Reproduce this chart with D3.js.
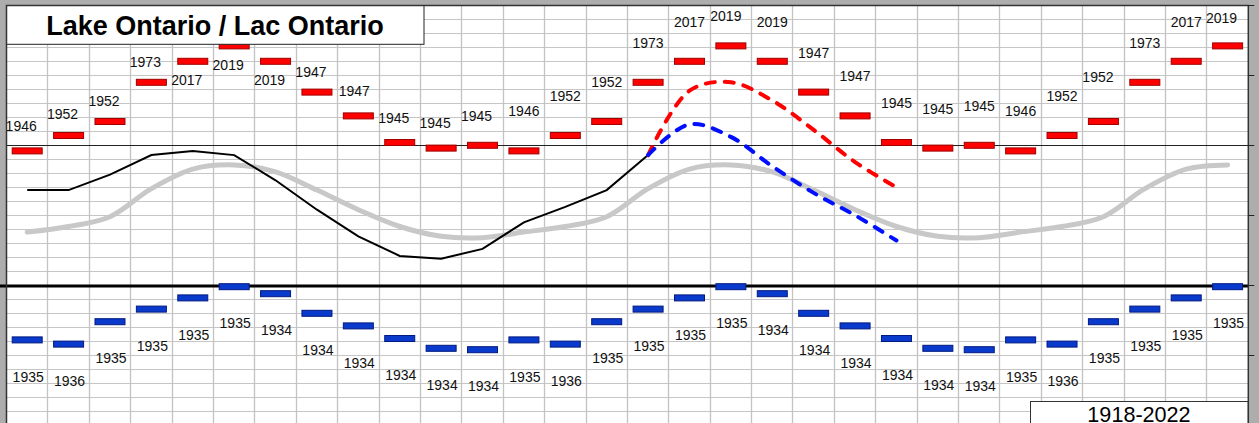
<!DOCTYPE html>
<html><head><meta charset="utf-8">
<script src="https://cdn.jsdelivr.net/npm/d3@7"></script>
<style>
html,body{margin:0;padding:0;background:#adadad;overflow:hidden;}
svg{display:block;font-family:"Liberation Sans",Arial,sans-serif;}
</style></head><body>
<svg id="chart" width="1259" height="423"></svg>
<script>
// ---------- data (metres, IGLD 1985) ----------
const months = ["2022-01","2022-02","2022-03","2022-04","2022-05","2022-06","2022-07","2022-08","2022-09","2022-10","2022-11","2022-12",
                "2023-01","2023-02","2023-03","2023-04","2023-05","2023-06","2023-07","2023-08","2023-09","2023-10","2023-11","2023-12",
                "2024-01","2024-02","2024-03","2024-04","2024-05","2024-06"];
const recordHigh = [75.16,75.27,75.37,75.65,75.80,75.91,75.80,75.58,75.41,75.22,75.18,75.20,
                    75.16,75.27,75.37,75.65,75.80,75.91,75.80,75.58,75.41,75.22,75.18,75.20,
                    75.16,75.27,75.37,75.65,75.80,75.91];
const recordHighYear = [1946,1952,1952,1973,2017,2019,2019,1947,1947,1945,1945,1945,
                        1946,1952,1952,1973,2017,2019,2019,1947,1947,1945,1945,1945,
                        1946,1952,1952,1973,2017,2019];
const recordLow = [73.81,73.78,73.94,74.03,74.11,74.19,74.14,74.00,73.91,73.82,73.75,73.74,
                   73.81,73.78,73.94,74.03,74.11,74.19,74.14,74.00,73.91,73.82,73.75,73.74,
                   73.81,73.78,73.94,74.03,74.11,74.19];
const recordLowYear = [1935,1936,1935,1935,1935,1935,1934,1934,1934,1934,1934,1934,
                       1935,1936,1935,1935,1935,1935,1934,1934,1934,1934,1934,1934,
                       1935,1936,1935,1935,1935,1935];
const longTermAverage = [74.58,74.62,74.69,74.89,75.03,75.06,75.01,74.88,74.74,74.62,74.55,74.54,
                         74.58,74.62,74.69,74.89,75.03,75.06,75.01,74.88,74.74,74.62,74.55,74.54,
                         74.58,74.62,74.69,74.89,75.03,75.06];
const recordedMonths = ["2022-01","2022-02","2022-03","2022-04","2022-05","2022-06","2022-07","2022-08",
                        "2022-09","2022-10","2022-11","2022-12","2023-01","2023-02","2023-03","2023-04"];
const recorded = [74.88,74.88,74.99,75.13,75.16,75.13,74.95,74.74,74.55,74.41,74.39,74.46,74.65,74.76,74.88,75.13];
const forecastMonths = ["2023-04","2023-05","2023-06","2023-07","2023-08","2023-09","2023-10"];
const forecastHigh = [75.13,75.59,75.65,75.52,75.31,75.08,74.90];
const forecastLow  = [75.13,75.35,75.26,75.05,74.86,74.70,74.52];
const yTicks = [73.7,74.2,74.7,75.2,75.7,76.2];
const chartDatum = 74.2;
const referenceLevel = 75.2;
const titleText = "Lake Ontario / Lac Ontario";
const periodText = "1918-2022";

// ---------- layout ----------
const svg = d3.select("#chart");
const L = 6.5, R = 1248.3, T = 5.5, B = 425.3;
const x = d3.scaleBand().domain(months).range([L, R]).padding(0);
const bw = x.bandwidth();
const cx = m => x(m) + bw / 2;
const y = d3.scaleLinear().domain([73.2, 76.2]).range([B, 5.3]);
const crisp = v => Math.floor(v) + 0.5;

svg.append("rect").attr("x",0).attr("y",0).attr("width",1259).attr("height",423).attr("fill","#adadad");
svg.append("rect").attr("x",L).attr("y",T).attr("width",R-L).attr("height",B-T).attr("fill","#fff");

const g = svg.append("g");
// grid
g.selectAll(".hg").data(y.ticks(30)).join("line")
  .attr("x1",L).attr("x2",R).attr("y1",d=>crisp(y(d))).attr("y2",d=>crisp(y(d)))
  .attr("stroke","#c6c6c6").attr("stroke-width",1);
g.selectAll(".vg").data(months.slice(1)).join("line")
  .attr("x1",d=>crisp(x(d))).attr("x2",d=>crisp(x(d))).attr("y1",T).attr("y2",B)
  .attr("stroke","#c3c3c3").attr("stroke-width",1.3);

// reference lines
g.append("line").attr("x1",L).attr("x2",R).attr("y1",crisp(y(referenceLevel))).attr("y2",crisp(y(referenceLevel)))
  .attr("stroke","#222").attr("stroke-width",1);
g.append("line").attr("x1",0).attr("x2",R).attr("y1",y(chartDatum)+0.7).attr("y2",y(chartDatum)+0.7)
  .attr("stroke","#000").attr("stroke-width",3);

// long-term average
const smooth = d3.line().curve(d3.curveCatmullRom.alpha(0.5));
g.append("path")
  .attr("d", smooth(months.map((m,i)=>[cx(m), y(longTermAverage[i])])))
  .attr("fill","none").attr("stroke","#c8c8c8").attr("stroke-width",5).attr("stroke-linecap","round");

// recorded
g.append("path")
  .attr("d", d3.line()(recordedMonths.map((m,i)=>[cx(m), y(recorded[i])])))
  .attr("fill","none").attr("stroke","#000").attr("stroke-width",2);

// forecasts
g.append("path")
  .attr("d", smooth(forecastMonths.map((m,i)=>[cx(m), y(forecastHigh[i])])))
  .attr("fill","none").attr("stroke","#ff0000").attr("stroke-width",4)
  .attr("stroke-dasharray","9,10").attr("stroke-linecap","round");
g.append("path")
  .attr("d", smooth(forecastMonths.map((m,i)=>[cx(m), y(forecastLow[i])])))
  .attr("fill","none").attr("stroke","#0010ff").attr("stroke-width",4)
  .attr("stroke-dasharray","9,10").attr("stroke-linecap","round");

// record bars
const barW = 30, barH = 6;
g.selectAll(".hi").data(months).join("rect")
  .attr("x",m=>cx(m)-barW/2).attr("y",(m,i)=>y(recordHigh[i])-barH/2)
  .attr("width",barW).attr("height",barH)
  .attr("fill","#ff0000").attr("stroke","#a00000").attr("stroke-width",1);
g.selectAll(".lo").data(months).join("rect")
  .attr("x",m=>cx(m)-barW/2).attr("y",(m,i)=>y(recordLow[i])-barH/2)
  .attr("width",barW).attr("height",barH)
  .attr("fill","#0a3acc").attr("stroke","#001a80").attr("stroke-width",1);

// labels
const firstYearDy = {0:-25,1:-22,2:-21,3:-20,4:19,5:19,6:19,7:-20,8:-25,9:-25,10:-25,11:-29};
function hiShift(i){
  if (i < 12) return [i===8?-4:-6, firstYearDy[i]];
  if (i === 17) return [-5,-30];
  if (i === 29) return [-6,-28];
  if (i === 26) return [-5.5,-45];
  return [0,-39.5];
}
g.selectAll(".hil").data(months).join("text")
  .attr("x",(m,i)=>cx(m)+hiShift(i)[0])
  .attr("y",(m,i)=>y(recordHigh[i])+hiShift(i)[1])
  .attr("dy","0.36em").attr("text-anchor","middle")
  .attr("font-size",14).attr("fill","#111")
  .text((m,i)=>recordHighYear[i]);
g.selectAll(".lol").data(months).join("text")
  .attr("x",m=>cx(m)+1)
  .attr("y",(m,i)=>y(recordLow[i])+36.7)
  .attr("dy","0.36em").attr("text-anchor","middle")
  .attr("font-size",14).attr("fill","#111")
  .text((m,i)=>recordLowYear[i]);

// title box
svg.append("rect").attr("x",L).attr("y",T).attr("width",417.5).attr("height",38.8)
  .attr("fill","#fff").attr("stroke","#222").attr("stroke-width",1);
svg.append("text").attr("x",215).attr("y",35).attr("text-anchor","middle")
  .attr("font-size",27).attr("font-weight","bold").attr("fill","#000").text(titleText);

// period box
svg.append("rect").attr("x",1030.5).attr("y",401.5).attr("width",R-1030.5).attr("height",40)
  .attr("fill","#fff").attr("stroke","#333").attr("stroke-width",1);
svg.append("text").attr("x",1139).attr("y",422).attr("text-anchor","middle")
  .attr("font-size",21.6).attr("fill","#000").text(periodText);

// frame and right ticks
svg.append("rect").attr("x",L).attr("y",T).attr("width",R-L).attr("height",B-T)
  .attr("fill","none").attr("stroke","#333").attr("stroke-width",1.5);
svg.selectAll(".rt").data(yTicks).join("line")
  .attr("x1",R).attr("x2",R+6).attr("y1",d=>crisp(y(d))).attr("y2",d=>crisp(y(d)))
  .attr("stroke","#222").attr("stroke-width",1);
</script>
</body></html>
